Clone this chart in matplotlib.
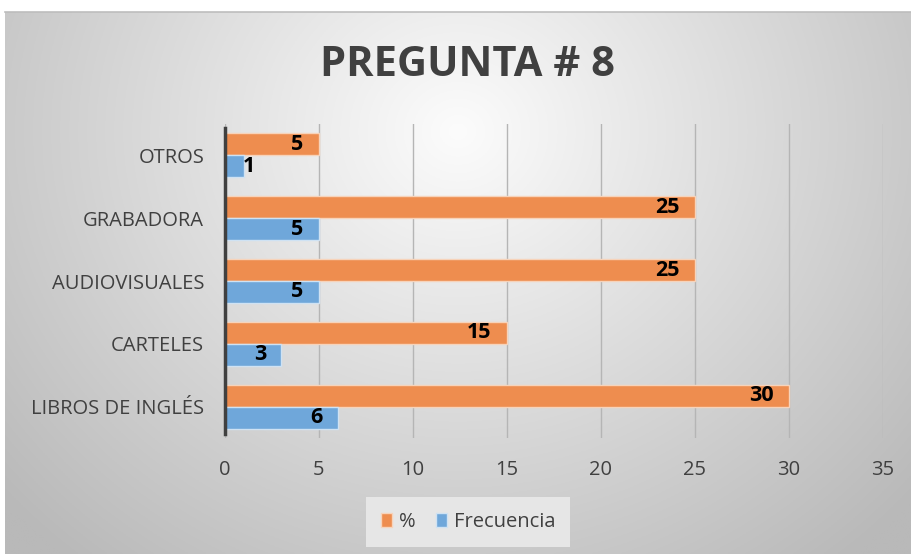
import numpy as np
import matplotlib
matplotlib.use("Agg")
import matplotlib.pyplot as plt

categories = ["LIBROS DE INGLÉS", "CARTELES", "AUDIOVISUALES", "GRABADORA", "OTROS"]
porcentaje = [30, 15, 25, 25, 5]
frecuencia = [6, 3, 5, 5, 1]
series_names = ["%", "Frecuencia"]
xticks = [0, 5, 10, 15, 20, 25, 30, 35]

plt.rcParams['font.family'] = ['Open Sans', 'DejaVu Sans']

W, H = 911, 554
fig = plt.figure(figsize=(W/100, H/100), dpi=100)
fig.patch.set_facecolor('white')

# background gradient panel
bg = fig.add_axes([5/W, 0, (W-5)/W, (H-12)/H])
bg.set_axis_off()
ny, nx = 300, 500
yy, xx = np.mgrid[0:1:ny*1j, 0:1:nx*1j]
r = np.sqrt(((xx-0.5)/0.62)**2 + ((yy-0.22)/0.95)**2)
val = np.clip(252 - 62*r, 185, 252)/255.0
img = np.dstack([val, val, val])
bg.imshow(img, aspect='auto', extent=[0, 1, 1, 0], zorder=0)
bg.set_xlim(0, 1); bg.set_ylim(1, 0)
fig.add_artist(plt.Line2D([5/W, 1], [(H-12)/H, (H-12)/H], color='#bdbdbd', lw=1.2))

ax = fig.add_axes([225/W, 1-438/H, (883-225)/W, (438-124)/H])
ax.set_facecolor('none')
y = np.arange(len(categories))
h = 0.35
c_or = '#EE8D4F'
c_bl = '#6FA7DA'
b1 = ax.barh(y + h/2, porcentaje, height=h, color=c_or, edgecolor='#F7D3BA', lw=1.0, label=series_names[0], zorder=3)
b2 = ax.barh(y - h/2, frecuencia, height=h, color=c_bl, edgecolor='#CFE2F3', lw=1.0, label=series_names[1], zorder=3)

ax.set_xlim(0, 35)
ax.set_ylim(-0.5, len(categories)-0.5)
ax.set_xticks(xticks)
ax.set_yticks(y)
ax.set_yticklabels(categories, fontsize=14.5, color='#404040')
ax.tick_params(axis='y', length=0, pad=15)
ax.tick_params(axis='x', length=0, pad=16, labelsize=14.5, labelcolor='#404040')
ax.grid(axis='x', color='#b5b5b5', lw=1.0, zorder=1)
for s in ['top', 'right', 'bottom']:
    ax.spines[s].set_visible(False)
ax.spines['left'].set_color('#404040')
ax.spines['left'].set_linewidth(2.5)
ax.spines['left'].set_zorder(4)
ax.spines['left'].set_bounds(-0.43, 4.43)

def label(bars, vals):
    for bar, v in zip(bars, vals):
        yc = bar.get_y() + bar.get_height()/2
        if v >= 3:
            ax.annotate(str(v), (v, yc), xytext=(-11, 0), textcoords='offset points',
                        ha='right', va='center', fontsize=15.5, fontweight='bold', color='black', zorder=5)
        else:
            ax.annotate(str(v), (v, yc), xytext=(-1, 0), textcoords='offset points',
                        ha='left', va='center', fontsize=15.5, fontweight='bold', color='black', zorder=5)

label(b1, porcentaje)
label(b2, frecuencia)

fig.text(467/W, 1-66/H, "PREGUNTA # 8", ha='center', va='center', fontsize=30,
         fontweight='bold', color='#404040')

leg = ax.legend(handles=[b1, b2], loc='center', bbox_to_anchor=(468/W, 1-522/H),
                bbox_transform=fig.transFigure, ncol=2, frameon=True, fontsize=14.5,
                handlelength=0.55, handleheight=0.75, handletextpad=0.35, columnspacing=1.0,
                borderpad=0.75, fancybox=False)
leg.get_frame().set_facecolor('#e6e6e6')
leg.get_frame().set_edgecolor('none')
leg.get_frame().set_alpha(1)
for t in leg.get_texts():
    t.set_color('#404040')

fig.savefig('out.png', dpi=100)
